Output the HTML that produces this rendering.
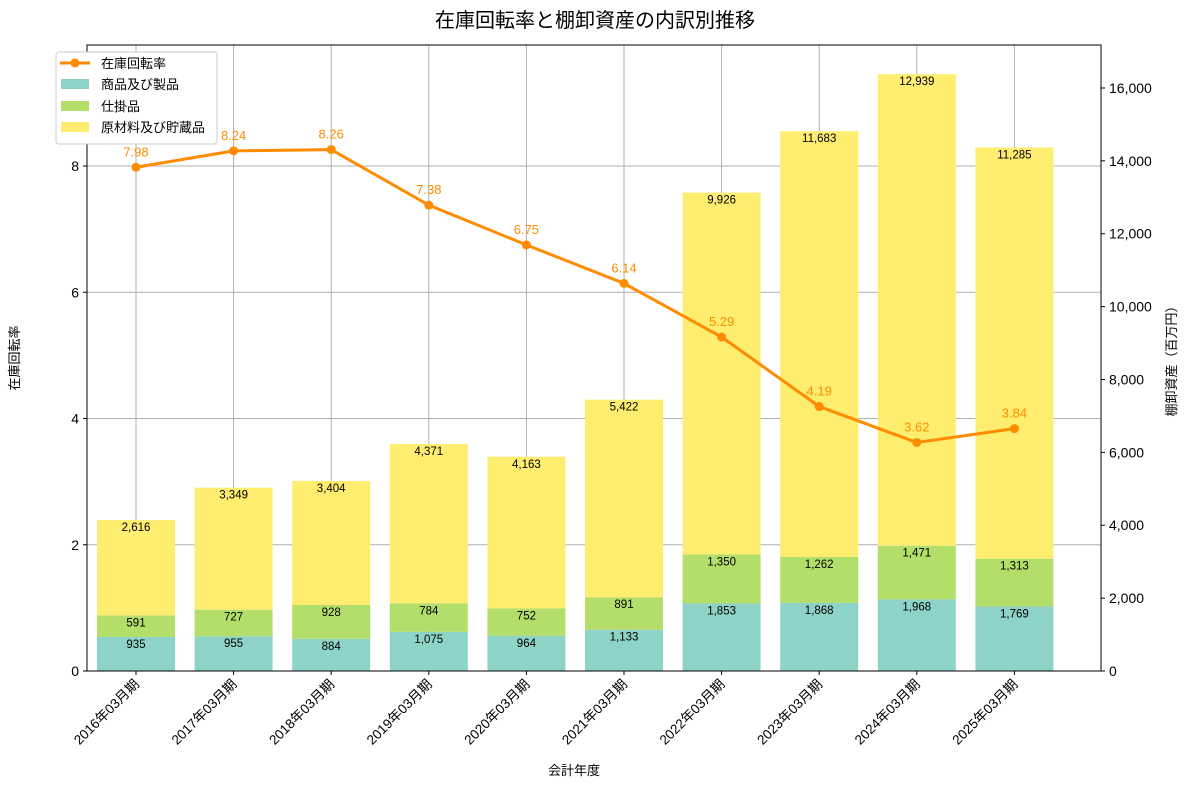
<!DOCTYPE html>
<html><head><meta charset="utf-8"><style>
body{margin:0;background:#fff;font-family:"Liberation Sans","Noto Sans CJK JP",sans-serif;}
</style></head><body>
<svg id="chart" width="1190" height="789" xmlns="http://www.w3.org/2000/svg" font-family="Liberation Sans, Noto Sans CJK JP, sans-serif">
<text x="595" y="27" text-anchor="middle" font-size="20">在庫回転率と棚卸資産の内訳別推移</text>
<g id="grid"></g><g id="bars"></g><g id="line"></g><g id="axes"></g>
<g>
<rect x="56" y="52" width="161" height="92" fill="#fff" stroke="#ccc" rx="3"/>
<line x1="60" y1="63" x2="90" y2="63" stroke="#ff8c00" stroke-width="3"/><circle cx="75" cy="63" r="4.5" fill="#ff8c00"/>
<text x="101" y="68" font-size="13">在庫回転率</text>
<rect x="61" y="79" width="28" height="10" fill="#8dd3c7"/><text x="101" y="89" font-size="13">商品及び製品</text>
<rect x="61" y="101" width="28" height="10" fill="#b3de69"/><text x="101" y="111" font-size="13">仕掛品</text>
<rect x="61" y="122" width="28" height="10" fill="#ffed6f"/><text x="101" y="132" font-size="13">原材料及び貯蔵品</text>
</g>
</svg>
<script>
const categories=["2016年03月期","2017年03月期","2018年03月期","2019年03月期","2020年03月期","2021年03月期","2022年03月期","2023年03月期","2024年03月期","2025年03月期"];
const products=[935,955,884,1075,964,1133,1853,1868,1968,1769];
const wip=[591,727,928,784,752,891,1350,1262,1471,1313];
const materials=[2616,3349,3404,4371,4163,5422,9926,11683,12939,11285];
const turnover=[7.98,8.24,8.26,7.38,6.75,6.14,5.29,4.19,3.62,3.84];
const leftTicks=[0,2,4,6,8];
const rightTicks=[0,2000,4000,6000,8000,10000,12000,14000,16000];
const NS="http://www.w3.org/2000/svg";
const L=87,R=1101,T=45,B=671;
const x=i=>136+i*97.6;
const yL=v=>B-v*63.125;
const yR=v=>B-v*0.036438;
function mk(tag,attrs,parent){const e=document.createElementNS(NS,tag);for(const k in attrs)e.setAttribute(k,attrs[k]);document.getElementById(parent).appendChild(e);return e;}
const fmt=v=>v.toLocaleString("en-US");
categories.forEach((c,i)=>{
  const g=mk("line",{x1:x(i),x2:x(i),y1:T,y2:B,stroke:"#b0b0b0","stroke-width":1},"grid");
  
  
});
leftTicks.forEach(v=>{
  const g=mk("line",{x1:L,x2:R,y1:yL(v),y2:yL(v),stroke:"#b0b0b0","stroke-width":1},"grid");
  
  
});
const segs=[[products,"#8dd3c7","bar-products"],[wip,"#b3de69","bar-wip"],[materials,"#ffed6f","bar-materials"]];
categories.forEach((c,i)=>{
  let base=0;
  segs.forEach(([arr,col,nm])=>{
    const v=arr[i];const y1=yR(base+v),y0=yR(base);
    const r=mk("rect",{x:x(i)-39,y:y1,width:78,height:y0-y1,fill:col},"bars");
    
    
    const t=mk("text",{x:x(i),y:y1+11,"text-anchor":"middle","font-size":"11.5"},"bars");
    t.textContent=fmt(v);
    
    
    base+=v;
  });
});
const pl=mk("polyline",{points:turnover.map((v,i)=>x(i)+","+yL(v)).join(" "),fill:"none",stroke:"#ff8c00","stroke-width":3},"line");


turnover.forEach((v,i)=>{
  const p=mk("circle",{cx:x(i),cy:yL(v),r:4.5,fill:"#ff8c00"},"line");
  
  
  const t=mk("text",{x:x(i),y:yL(v)-11,"text-anchor":"middle","font-size":"13",fill:"#ff8c00"},"line");
  t.textContent=v.toFixed(2);
  
  
});
const fr=mk("rect",{x:L,y:T,width:R-L,height:B-T,fill:"none",stroke:"#000","stroke-width":1},"axes");


leftTicks.forEach(v=>{
  mk("line",{x1:L-4,x2:L,y1:yL(v),y2:yL(v),stroke:"#000"},"axes");
  const t=mk("text",{x:L-8,y:yL(v)+5,"text-anchor":"end","font-size":"14"},"axes");
  t.textContent=v;
  
  
});
rightTicks.forEach(v=>{
  mk("line",{x1:R,x2:R+4,y1:yR(v),y2:yR(v),stroke:"#000"},"axes");
  const t=mk("text",{x:R+8,y:yR(v)+5,"font-size":"14"},"axes");
  t.textContent=fmt(v);
  
  
});
categories.forEach((c,i)=>{
  mk("line",{x1:x(i),x2:x(i),y1:B,y2:B+4,stroke:"#000"},"axes");
  const t=mk("text",{x:x(i)+4,y:B+14,"text-anchor":"end","font-size":"13.5",transform:`rotate(-45 ${x(i)+4} ${B+14})`},"axes");
  t.textContent=c;
  
  
});
let a=mk("text",{x:574,y:775,"text-anchor":"middle","font-size":"13"},"axes");a.textContent="会計年度";


a=mk("text",{x:19,y:358,"text-anchor":"middle","font-size":"13",transform:"rotate(-90 19 358)"},"axes");a.textContent="在庫回転率";


a=mk("text",{x:1176,y:358,"text-anchor":"middle","font-size":"13",transform:"rotate(-90 1176 358)"},"axes");a.textContent="棚卸資産（百万円）";


</script>
</body></html>
